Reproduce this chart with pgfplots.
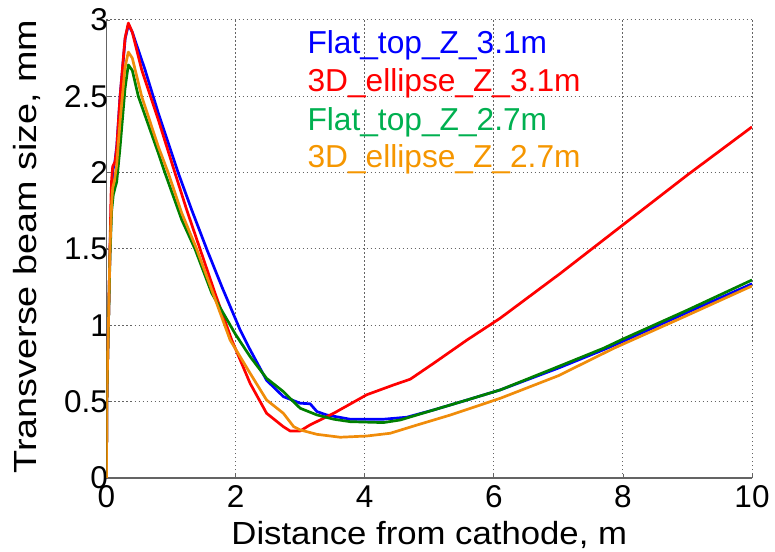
\documentclass[border=0pt]{standalone}
\usepackage{pgfplots}
\pgfplotsset{compat=1.18}
\usepackage{fontspec}
\setmainfont{Liberation Sans}
\newfontfamily\xlabfont[FakeStretch=1.085]{Liberation Sans}
\newfontfamily\ylabfont[FakeStretch=1.18]{Liberation Sans}
\definecolor{cblue}{RGB}{0,0,255}
\definecolor{cred}{RGB}{255,0,0}
\definecolor{cgreen}{RGB}{0,128,0}
\definecolor{cgreenL}{RGB}{0,176,80}
\definecolor{corange}{RGB}{240,140,10}
\definecolor{corangeL}{RGB}{245,150,0}
\definecolor{axgray}{RGB}{100,100,100}
\begin{document}
\begin{tikzpicture}
\begin{axis}[
  scale only axis,
  width=645.5pt, height=458pt,
  xmin=0, xmax=10, ymin=0, ymax=3,
  xtick={0,2,...,10}, ytick={0,0.5,...,3},
  axis x line*=bottom, axis y line*=left,
  axis line style={axgray, line width=1.2pt, -},
  tick style={axgray, line width=0.8pt},
  major tick length=4pt,
  tick align=inside,
  grid=major,
  grid style={axgray, line width=1pt, dash pattern=on 1.5pt off 2.5pt},
  /pgf/number format/assume math mode=true,
  tick label style={font=\fontsize{31.5}{36}\selectfont},
  xticklabel style={yshift=-4pt},
  yticklabel style={xshift=5pt},
  xlabel={Distance from cathode, m},
  ylabel={Transverse beam size, mm},
  xlabel style={font=\xlabfont\fontsize{32}{36}\selectfont, at={(axis description cs:0.5,0)}, anchor=base, yshift=-66.3pt},
  ylabel style={font=\ylabfont\fontsize{32}{36}\selectfont, at={(axis description cs:-0.1077,0.5055)}, anchor=base},
  clip=true,
  every axis plot/.append style={line width=2.7pt, line join=round},
]
\coordinate (O) at (rel axis cs:0,0);
% Flat_top_Z_3.1m
\addplot[cblue] coordinates {
(0,0) (0.005,0.5) (0.013,0.69) (0.03,1.0) (0.054,1.5) (0.08,1.85) (0.10,2.02) (0.13,2.07) (0.16,2.18)
(0.21,2.50) (0.29,2.88) (0.34,2.97) (0.40,2.92) (0.597,2.674) (0.803,2.39) (1.113,1.997)
(1.32,1.756) (1.553,1.499) (1.786,1.254) (2.07,0.97) (2.225,0.84) (2.48,0.64) (2.74,0.533)
(3.0,0.49) (3.155,0.486) (3.26,0.435) (3.41,0.413) (3.775,0.385) (4.29,0.385) (4.65,0.398)
(5.07,0.446) (5.585,0.511) (6.1,0.577) (7.0,0.72) (7.7,0.84) (8.0,0.895) (9.0,1.085) (10.0,1.272)
};
% 3D_ellipse_Z_3.1m
\addplot[cred] coordinates {
(0,0) (0.005,0.5) (0.013,0.69) (0.03,1.0) (0.054,1.5) (0.07,1.85) (0.08,1.96) (0.096,2.04)
(0.132,2.07) (0.158,2.16) (0.209,2.49) (0.287,2.88) (0.338,2.98) (0.40,2.92) (0.545,2.674)
(0.803,2.346) (1.062,1.997) (1.243,1.756) (1.45,1.499) (1.682,1.21) (1.94,0.904) (2.225,0.62)
(2.48,0.424) (2.74,0.336) (2.845,0.308) (3.0,0.308) (3.15,0.347) (3.52,0.424) (4.03,0.545)
(4.45,0.61) (4.705,0.647) (5.07,0.752) (5.585,0.904) (6.1,1.047) (7.03,1.34) (8.0,1.658)
(9.0,1.985) (10.0,2.30)
};
% Flat_top_Z_2.7m
\addplot[cgreen] coordinates {
(0,0) (0.005,0.5) (0.013,0.69) (0.03,1.0) (0.054,1.45) (0.08,1.75) (0.105,1.855) (0.132,1.90)
(0.158,1.94) (0.209,2.16) (0.287,2.55) (0.338,2.706) (0.40,2.67) (0.493,2.50) (0.803,2.128)
(0.907,1.997) (1.166,1.691) (1.372,1.499) (1.631,1.21) (2.0,0.94) (2.225,0.795) (2.48,0.653)
(2.74,0.566) (3.0,0.457) (3.26,0.413) (3.52,0.385) (3.775,0.369) (4.29,0.363) (4.55,0.38)
(5.07,0.446) (5.585,0.511) (6.1,0.577) (7.0,0.73) (7.7,0.85) (8.0,0.91) (9.0,1.10) (10.0,1.297)
};
% 3D_ellipse_Z_2.7m
\addplot[corange] coordinates {
(0,0) (0.005,0.5) (0.013,0.69) (0.03,1.0) (0.054,1.5) (0.08,1.80) (0.096,1.90) (0.12,1.94)
(0.158,2.05) (0.209,2.33) (0.287,2.69) (0.338,2.79) (0.40,2.75) (0.545,2.50) (0.803,2.17)
(0.958,1.997) (1.166,1.735) (1.398,1.499) (1.631,1.232) (1.915,0.904) (2.225,0.686)
(2.48,0.511) (2.74,0.424) (2.9,0.336) (3.0,0.315) (3.26,0.286) (3.62,0.267) (4.03,0.275)
(4.395,0.293) (4.81,0.347) (5.33,0.413) (6.1,0.522) (7.0,0.67) (7.86,0.85) (9.0,1.066) (10.0,1.258)
};
\node[anchor=base west, inner sep=0pt, text=cblue, font=\fontsize{31.7}{36}\selectfont] at (axis description cs:0.3111,0.9273) {Flat\_top\_Z\_3.1m};
\node[anchor=base west, inner sep=0pt, text=cred, font=\fontsize{31.7}{36}\selectfont] at (axis description cs:0.3111,0.8435) {3D\_ellipse\_Z\_3.1m};
\node[anchor=base west, inner sep=0pt, text=cgreenL, font=\fontsize{31.7}{36}\selectfont] at (axis description cs:0.3111,0.7598) {Flat\_top\_Z\_2.7m};
\node[anchor=base west, inner sep=0pt, text=corangeL, font=\fontsize{31.7}{36}\selectfont] at (axis description cs:0.3111,0.6769) {3D\_ellipse\_Z\_2.7m};
\end{axis}
\pgfresetboundingbox
\path[use as bounding box] ([shift={(-106.5pt,-73pt)}]O) rectangle ([shift={(668.5pt,478pt)}]O);
\end{tikzpicture}
\end{document}
